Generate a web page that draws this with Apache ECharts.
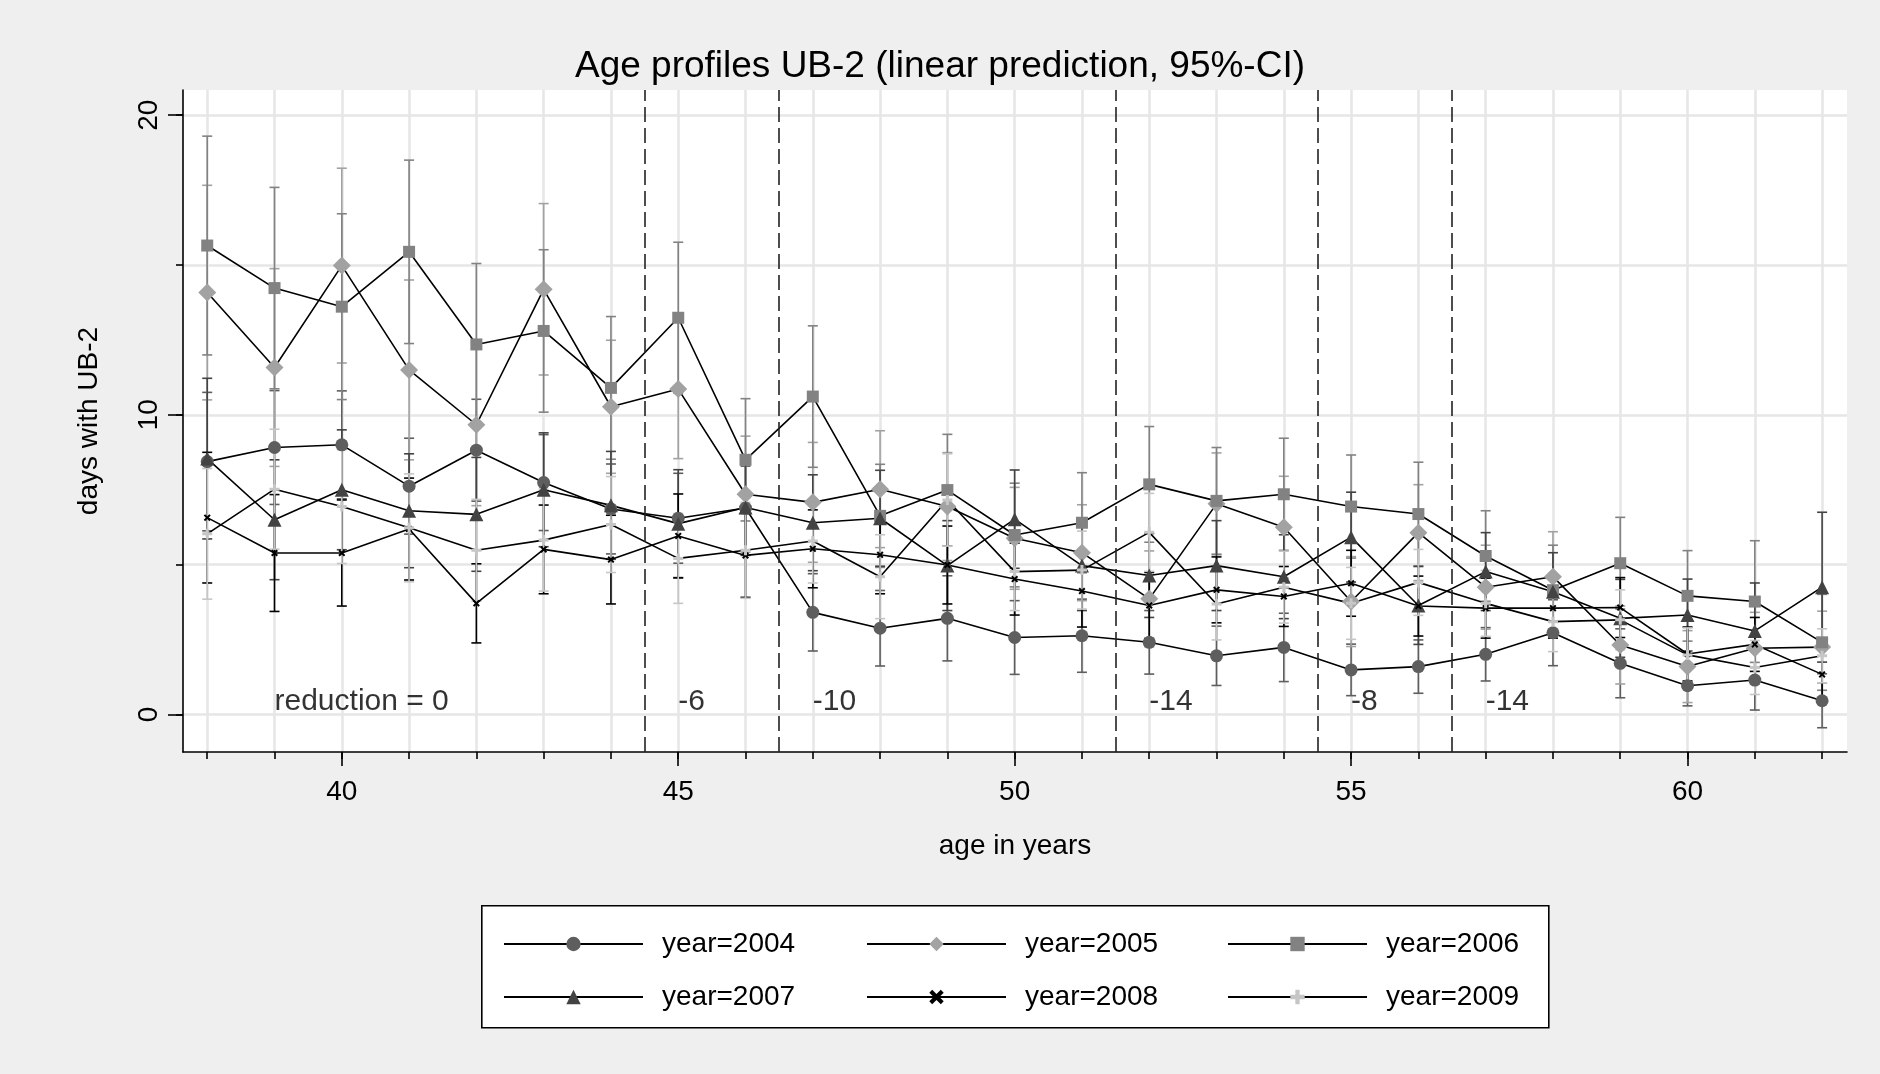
<!DOCTYPE html>
<html><head><meta charset="utf-8">
<script src="https://cdn.jsdelivr.net/npm/echarts@6/dist/echarts.min.js"></script>
<style>html,body{margin:0;padding:0;background:#efefef}#c{width:1880px;height:1074px}</style>
</head><body><div id="c"></div>
<script>
// ---- data ----
const ages = [38,39,40,41,42,43,44,45,46,47,48,49,50,51,52,53,54,55,56,57,58,59,60,61,62];

const y2004  = [8.44,8.91,9.00,7.62,8.82,7.74,6.86,6.55,6.89,3.41,2.88,3.21,2.57,2.63,2.41,1.96,2.24,1.49,1.60,2.01,2.73,1.71,0.96,1.15,0.46];
const ci2004 = [2.31,1.90,1.80,1.60,1.70,1.60,1.50,1.50,1.40,1.29,1.26,1.42,1.23,1.22,1.06,0.99,1.14,0.86,0.89,0.89,1.10,1.15,0.67,1.00,0.90];

const y2005  = [14.08,11.58,14.98,11.50,9.67,14.19,10.27,10.86,7.35,7.08,7.52,6.94,5.88,5.40,3.86,7.03,6.25,3.77,6.07,4.25,4.60,2.32,1.60,2.21,2.25];
const ci2005 = [3.58,3.30,3.25,3.00,2.70,2.86,2.22,2.32,1.94,2.00,1.95,1.80,1.70,1.60,1.60,1.70,1.70,1.50,1.60,1.40,1.50,1.30,1.20,1.20,1.20];

const y2006  = [15.65,14.23,13.61,15.44,12.35,12.80,10.90,13.24,8.50,10.61,6.63,7.49,5.99,6.40,7.68,7.13,7.35,6.94,6.69,5.29,4.15,5.05,3.96,3.77,2.41];
const ci2006 = [3.65,3.36,3.10,3.06,2.70,2.71,2.38,2.52,2.04,2.36,1.72,1.86,1.73,1.67,1.93,1.78,1.87,1.72,1.73,1.51,1.50,1.53,1.51,2.03,1.60];

const y2007  = [8.54,6.50,7.50,6.80,6.68,7.50,6.98,6.37,6.91,6.40,6.55,4.97,6.52,4.97,4.64,4.97,4.60,5.92,3.64,4.77,4.10,3.21,3.32,2.79,4.25];
const ci2007 = [2.68,2.00,2.00,1.90,1.90,1.90,1.80,1.80,1.60,1.60,1.60,1.50,1.64,1.50,1.40,1.50,1.40,1.50,1.30,1.30,1.30,1.30,1.20,1.60,2.50];

const y2008  = [6.57,5.39,5.39,6.19,3.71,5.51,5.17,5.96,5.31,5.53,5.33,4.99,4.52,4.12,3.64,4.16,3.94,4.38,3.62,3.55,3.55,3.57,2.02,2.34,1.34];
const ci2008 = [2.18,1.95,1.77,1.70,1.32,1.48,1.48,1.40,1.40,1.30,1.30,1.30,1.20,1.20,1.10,1.10,1.00,1.10,1.00,1.00,1.00,1.00,0.90,0.90,0.90];

const y2009  = [6.03,7.52,6.94,6.23,5.48,5.82,6.34,5.21,5.48,5.79,4.60,7.16,4.77,4.82,6.08,3.69,4.25,3.71,4.41,3.71,3.10,3.16,1.99,1.57,1.96];
const ci2009 = [2.18,2.00,1.90,1.80,1.70,1.70,1.60,1.50,1.60,1.40,1.40,1.54,1.30,1.30,1.30,1.20,1.20,1.20,1.10,1.10,1.00,1.00,0.90,0.90,0.90];

const seriesNames = ['year=2004','year=2005','year=2006','year=2007','year=2008','year=2009'];
const boundaries = [44.5,46.5,51.5,54.5,56.5];
const noteAges = [39,45,47,52,55,57];
const noteLevel = 0.42;
const noteTexts = ['reduction = 0','-6','-10','-14','-8','-14'];
const xMajorTicks = [40,45,50,55,60];
const yMajorTicks = [0,10,20];
const yMinorTicks = [0,5,10,15,20];
const titleText = 'Age profiles UB-2 (linear prediction, 95%-CI)';
const xTitle = 'age in years';
const yTitle = 'days with UB-2';

// ---- styles ----
const FONT = '"Liberation Sans", Arial, Helvetica, sans-serif';
const xPath = 'path://M0,2L2,0L5,3L8,0L10,2L7,5L10,8L8,10L5,7L2,10L0,8L3,5Z';
const plusPath = 'path://M3.5,0H6.5V3.5H10V6.5H6.5V10H3.5V6.5H0V3.5H3.5Z';
const defs = [
  {y:y2004, ci:ci2004, color:'#5e5e5e', symbol:'circle',   size:13},
  {y:y2005, ci:ci2005, color:'#a2a2a2', symbol:'diamond',  size:18},
  {y:y2006, ci:ci2006, color:'#828282', symbol:'rect',     size:12},
  {y:y2007, ci:ci2007, color:'#434343', symbol:'triangle', size:14},
  {y:y2008, ci:ci2008, color:'#000000', symbol:xPath,      size:7},
  {y:y2009, ci:ci2009, color:'#c6c6c6', symbol:plusPath,   size:10}
];

const X_MIN = 37.64, X_MAX = 62.37, Y_MIN = -1.25, Y_MAX = 20.84;

const series = [];
defs.forEach((d, k) => {
  series.push({
    type:'custom', name:'ci' + k, xAxisIndex:0, yAxisIndex:0, z:2, silent:true,
    encode:{x:0, y:[1,2]},
    data: ages.map((a,i) => [a, d.y[i] - d.ci[i], d.y[i] + d.ci[i]]),
    renderItem: function(params, api){
      const x = api.value(0);
      const p1 = api.coord([x, api.value(1)]);
      const p2 = api.coord([x, api.value(2)]);
      const w = 5;
      const st = {stroke:d.color, lineWidth:1.6};
      return {type:'group', children:[
        {type:'line', shape:{x1:p1[0],y1:p1[1],x2:p2[0],y2:p2[1]}, style:st},
        {type:'line', shape:{x1:p1[0]-w,y1:p1[1],x2:p1[0]+w,y2:p1[1]}, style:st},
        {type:'line', shape:{x1:p2[0]-w,y1:p2[1],x2:p2[0]+w,y2:p2[1]}, style:st}
      ]};
    }
  });
});
defs.forEach((d, k) => {
  const s = {
    type:'line', name:seriesNames[k], xAxisIndex:0, yAxisIndex:0, z:3,
    data: ages.map((a,i) => [a, d.y[i]]),
    symbol:d.symbol, symbolSize:d.size, showSymbol:true,
    lineStyle:{color:'#000', width:1.6},
    itemStyle:{color:d.color},
    emphasis:{disabled:true}, silent:true
  };
  if (k === 0) {
    s.markLine = {
      silent:true, symbol:['none','none'], label:{show:false},
      lineStyle:{color:'#222', width:1.6, type:[15,6]},
      data: boundaries.map(v => ({xAxis:v}))
    };
  }
  series.push(s);
});
series.push({
  type:'scatter', name:'notes', xAxisIndex:0, yAxisIndex:0, symbolSize:0, silent:true, z:4,
  data: noteAges.map((a,i) => [a, noteLevel, noteTexts[i]]),
  label:{show:true, position:'right', distance:0, formatter:p => p.value[2],
         fontSize:30, color:'#000', fontFamily:FONT}
});

const legendCols = [498, 861, 1222];
const legends = legendCols.map((left, c) => ({
  orient:'vertical', left:left, top:924, itemGap:23, itemWidth:139, itemHeight:18,
  selectedMode:false, data:[seriesNames[c], seriesNames[c+3]],
  textStyle:{fontSize:28, color:'#000', fontFamily:FONT, lineHeight:30, padding:[0,0,0,14]}
}));

const chart = echarts.init(document.getElementById('c'), null, {renderer:'canvas'});
chart.setOption({
  backgroundColor:'#efefef',
  animation:false,
  textStyle:{fontFamily:FONT},
  title:{text:titleText, left:'center', top:43,
         textStyle:{fontSize:37, fontWeight:'normal', color:'#000', fontFamily:FONT}},
  grid:{left:183, right:33, top:90, bottom:322, show:true, backgroundColor:'#ffffff', borderWidth:0, containLabel:false},
  legend: legends,
  graphic:[{type:'rect', left:481, top:905, z:1, silent:true,
            shape:{width:1067, height:122}, style:{fill:'#ffffff', stroke:'#000', lineWidth:1.6}}],
  xAxis:[
    {type:'value', min:X_MIN, max:X_MAX, position:'bottom',
     axisLine:{show:true, onZero:false, lineStyle:{color:'#000', width:1.6}},
     axisTick:{show:true, customValues:ages, length:7, lineStyle:{color:'#000', width:1.6}},
     axisLabel:{show:false},
     splitLine:{show:true, lineStyle:{color:'#e6e6e6', width:2.5}}},
    {type:'value', min:X_MIN, max:X_MAX, position:'bottom',
     axisLine:{show:false, onZero:false},
     axisTick:{show:true, customValues:xMajorTicks, length:14, lineStyle:{color:'#000', width:1.6}},
     axisLabel:{show:true, customValues:xMajorTicks, fontSize:28, color:'#000', margin:26, fontFamily:FONT},
     splitLine:{show:false},
     name:xTitle, nameLocation:'middle', nameGap:80,
     nameTextStyle:{fontSize:28, color:'#000', fontFamily:FONT}}
  ],
  yAxis:[
    {type:'value', min:Y_MIN, max:Y_MAX, position:'left',
     axisLine:{show:true, onZero:false, lineStyle:{color:'#000', width:1.6}},
     axisTick:{show:true, customValues:yMinorTicks, length:7, lineStyle:{color:'#000', width:1.6}},
     axisLabel:{show:false},
     splitLine:{show:true, lineStyle:{color:'#e6e6e6', width:2.5}}},
    {type:'value', min:Y_MIN, max:Y_MAX, position:'left',
     axisLine:{show:false, onZero:false},
     axisTick:{show:true, customValues:yMajorTicks, length:15, lineStyle:{color:'#000', width:1.6}},
     axisLabel:{show:true, customValues:yMajorTicks, rotate:90, fontSize:28, color:'#000', margin:20, fontFamily:FONT},
     splitLine:{show:false},
     name:yTitle, nameLocation:'middle', nameRotate:90, nameGap:80,
     nameTextStyle:{fontSize:28, color:'#000', fontFamily:FONT}}
  ],
  series: series
});
</script>
</body></html>
